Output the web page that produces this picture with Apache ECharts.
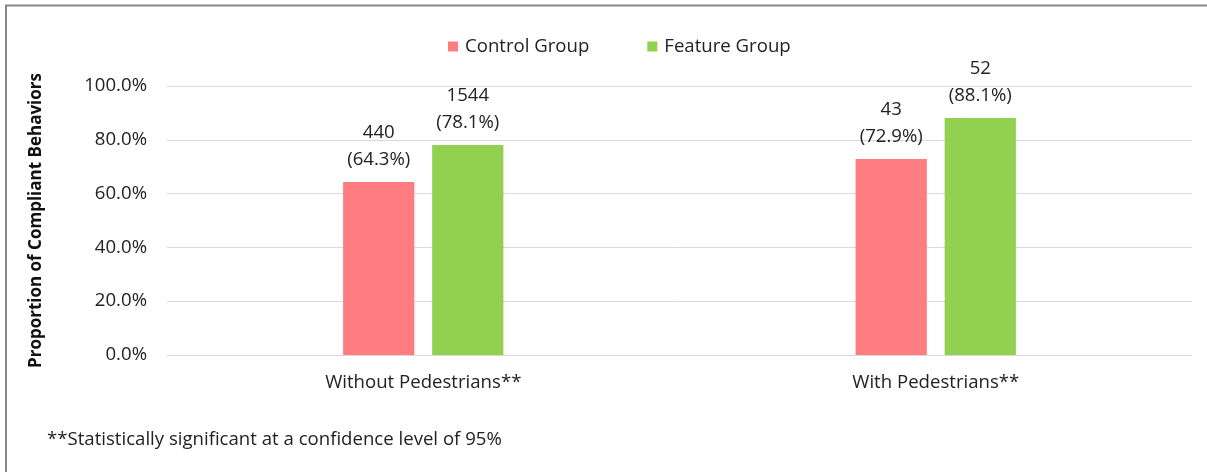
<!DOCTYPE html>
<html><head><meta charset="utf-8">
<script src="https://cdn.jsdelivr.net/npm/echarts@6/dist/echarts.min.js"></script>
<style>html,body{margin:0;padding:0;background:#fff}#c{width:1207px;height:472px}</style>
</head><body><div id="c"></div>
<script>
const categories = ['Without Pedestrians**', 'With Pedestrians**'];
const seriesNames = ['Control Group', 'Feature Group'];
const controlPct = [64.3, 72.9];
const featurePct = [78.1, 88.1];
const controlCounts = [440, 43];
const featureCounts = [1544, 52];
const yTicks = [0, 20, 40, 60, 80, 100];
const yAxisTitle = 'Proportion of Compliant Behaviors';
const footnote = '**Statistically significant at a confidence level of 95%';

const FONT = '"Open Sans", "Noto Sans", sans-serif';
const FS = 18.6;
const chart = echarts.init(document.getElementById('c'));
function lbl(counts, pct) {
  return {
    show: true, position: 'top', distance: 9, color: '#222', fontFamily: FONT, fontSize: FS, lineHeight: 27,
    formatter: p => counts[p.dataIndex] + '\n(' + pct[p.dataIndex].toFixed(1) + '%)'
  };
}
chart.setOption({
  animation: false,
  textStyle: { fontFamily: FONT },
  legend: {
    top: 32, left: 443, itemWidth: 10, itemHeight: 10, itemGap: 58, icon: 'rect',
    textStyle: { fontFamily: FONT, fontSize: FS, color: '#222', padding: [0, 0, 0, 2] },
    data: seriesNames
  },
  grid: { left: 167, right: 15, top: 86, bottom: 117, containLabel: false },
  xAxis: {
    type: 'category', data: categories,
    axisLine: { lineStyle: { color: '#d9d9d9', width: 1 } },
    axisTick: { show: false },
    axisLabel: { color: '#222', fontFamily: FONT, fontSize: FS, margin: 18 }
  },
  yAxis: {
    type: 'value', min: yTicks[0], max: yTicks[yTicks.length - 1], interval: 20,
    name: yAxisTitle, nameLocation: 'middle', nameGap: 122, nameRotate: 90,
    nameTextStyle: { fontFamily: FONT, fontSize: 17, fontWeight: 'bold', color: '#111' },
    axisLine: { show: false }, axisTick: { show: false },
    axisLabel: { color: '#222', fontFamily: FONT, fontSize: FS, margin: 20, formatter: v => v.toFixed(1) + '%' },
    splitLine: { lineStyle: { color: '#d9d9d9', width: 1 } }
  },
  series: [
    { name: seriesNames[0], type: 'bar', data: controlPct, barWidth: '13.9%', barGap: '25%',
      itemStyle: { color: '#FF7C80' }, label: lbl(controlCounts, controlPct) },
    { name: seriesNames[1], type: 'bar', data: featurePct, barWidth: '13.9%',
      itemStyle: { color: '#92D050' }, label: lbl(featureCounts, featurePct) }
  ],
  graphic: [
    { type: 'line', shape: { x1: 6, y1: 5, x2: 6, y2: 472 }, style: { stroke: '#888', lineWidth: 2 } },
    { type: 'line', shape: { x1: 5, y1: 5.5, x2: 1207, y2: 5.5 }, style: { stroke: '#888', lineWidth: 2 } },
    { type: 'text', left: 47, top: 430, style: { text: footnote, font: FS + 'px ' + FONT, fill: '#222' } }
  ]
});
</script></body></html>
